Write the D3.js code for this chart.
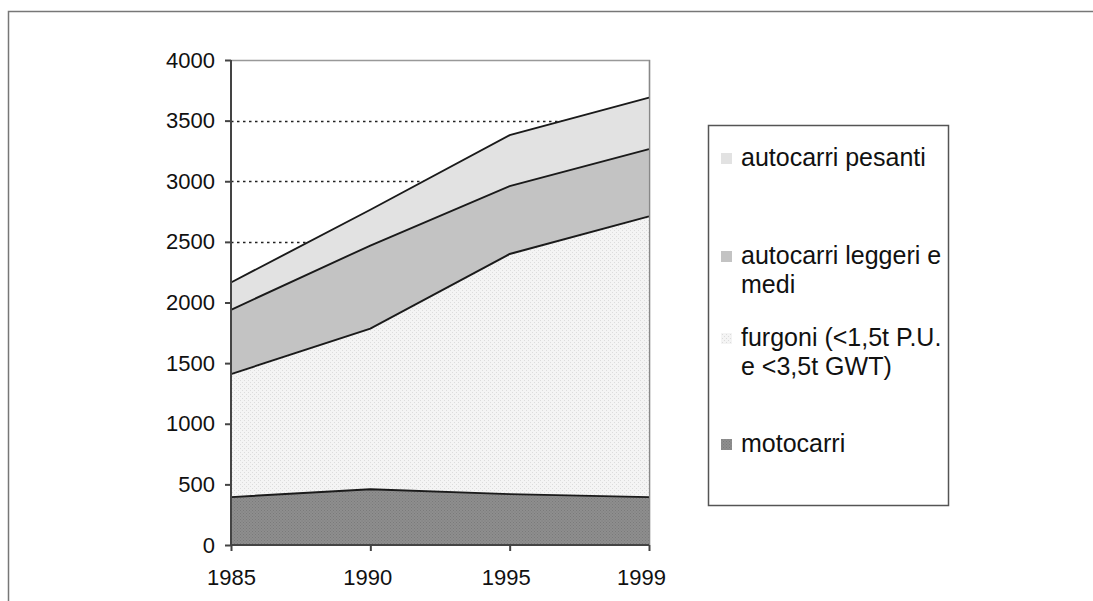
<!DOCTYPE html>
<html>
<head>
<meta charset="utf-8">
<script src="https://cdn.jsdelivr.net/npm/d3@7"></script>
<style>
html,body{margin:0;padding:0;background:#fff;}
svg{display:block;font-family:"Liberation Sans",Arial,sans-serif;}
</style>
</head>
<body>
<svg id="chart" width="1093" height="601"></svg>
<script>
const years = ["1985", "1990", "1995", "1999"];
const motocarri = [395, 460, 420, 395];
const furgoni = [1015, 1325, 1980, 2315];
const autocarriLeggeri = [530, 685, 560, 555];
const autocarriPesanti = [225, 295, 420, 425];
const yTicks = [0, 500, 1000, 1500, 2000, 2500, 3000, 3500, 4000];
const seriesNames = ["motocarri", "furgoni", "leggeri", "pesanti"];
const legendLabels = [
  ["autocarri pesanti"],
  ["autocarri leggeri e", "medi"],
  ["furgoni (<1,5t P.U.", "e <3,5t GWT)"],
  ["motocarri"]
];
const legendKeys = ["pesanti", "leggeri", "furgoni", "motocarri"];

const rows = years.map((yr, i) => ({
  year: yr,
  motocarri: motocarri[i],
  furgoni: furgoni[i],
  leggeri: autocarriLeggeri[i],
  pesanti: autocarriPesanti[i]
}));

const svg = d3.select("#chart");
const defs = svg.append("defs");

function dotPattern(id, bg, dot, size) {
  const p = defs.append("pattern").attr("id", id).attr("patternUnits", "userSpaceOnUse")
    .attr("width", size).attr("height", size);
  p.append("rect").attr("width", size).attr("height", size).attr("fill", bg);
  p.append("rect").attr("x", 0).attr("y", 0).attr("width", 1).attr("height", 1).attr("fill", dot);
  p.append("rect").attr("x", size / 2).attr("y", size / 2).attr("width", 1).attr("height", 1).attr("fill", dot);
}
dotPattern("pMoto", "#8e8e8e", "#7a7a7a", 3);
dotPattern("pFurg", "#f4f4f4", "#dcdcdc", 4);

const fills = {
  motocarri: "url(#pMoto)",
  furgoni: "url(#pFurg)",
  leggeri: "#c3c3c3",
  pesanti: "#e2e2e2"
};

// outer frame
svg.append("path").attr("d", "M8.5,601 L8.5,11.5 L1093,11.5")
  .attr("fill", "none").attr("stroke", "#777").attr("stroke-width", 1.5);

const pLeft = 231, pRight = 649, pTop = 60, pBottom = 545;
const x = d3.scalePoint().domain(years).range([pLeft, pRight]);
const y = d3.scaleLinear().domain([0, 4000]).range([pBottom, pTop]);

// gridlines
svg.append("g").selectAll("line").data(yTicks.filter(v => v > 0 && v < 4000)).join("line")
  .attr("x1", pLeft).attr("x2", pRight)
  .attr("y1", d => Math.round(y(d)) + 0.5).attr("y2", d => Math.round(y(d)) + 0.5)
  .attr("stroke", "#222").attr("stroke-width", 1.6).attr("stroke-dasharray", "2.5,3.5");

// plot border top/right
svg.append("path")
  .attr("d", `M${pLeft},${pTop + 0.5} L${pRight + 0.5},${pTop + 0.5} L${pRight + 0.5},${pBottom}`)
  .attr("fill", "none").attr("stroke", "#999").attr("stroke-width", 1.5);

// stacked areas
const stack = d3.stack().keys(seriesNames);
const stacked = stack(rows);
const area = d3.area().x(d => x(d.data.year)).y0(d => y(d[0])).y1(d => y(d[1]));
const line = d3.line().x(d => x(d.data.year)).y(d => y(d[1]));

svg.append("g").selectAll("path").data(stacked).join("path")
  .attr("d", area).attr("fill", d => fills[d.key]);
svg.append("g").selectAll("path").data(stacked).join("path")
  .attr("d", line).attr("fill", "none").attr("stroke", "#1a1a1a").attr("stroke-width", 1.9);

svg.append("line").attr("x1", pRight + 0.5).attr("x2", pRight + 0.5).attr("y1", pTop).attr("y2", pBottom)
  .attr("stroke", "#888").attr("stroke-width", 1.2);

// axes
const yAxis = d3.axisLeft(y).tickValues(yTicks).tickSize(6).tickPadding(10).tickFormat(d3.format("d"));
const gy = svg.append("g").attr("transform", `translate(${pLeft},0)`).call(yAxis);
const xAxis = d3.axisBottom(x).tickSize(6).tickPadding(18);
const gx = svg.append("g").attr("transform", `translate(0,${pBottom})`).call(xAxis);
[gy, gx].forEach(g => {
  g.select(".domain").attr("stroke", "#444").attr("stroke-width", 2);
  g.selectAll(".tick line").attr("stroke", "#444").attr("stroke-width", 2);
  g.selectAll(".tick text").attr("fill", "#111").style("font-size", "22px")
    .style("font-family", "'Liberation Sans', Arial, sans-serif");
});
gx.select(".domain").attr("d", `M${pLeft},0H${pRight}`);
gy.select(".domain").attr("d", `M0,${pBottom}V${pTop}`);
gx.selectAll(".tick text").attr("dx", (d, i) => [0, -3, -4, -8][i]);

// legend
const lg = svg.append("g");
lg.append("rect").attr("x", 708.5).attr("y", 125.5).attr("width", 240).attr("height", 380)
  .attr("fill", "#fff").attr("stroke", "#555").attr("stroke-width", 1.5);
const legendBase = [166, 264, 346, 452];
const legendLine = [0, 29, 29, 0];
legendKeys.forEach((k, i) => {
  const b = legendBase[i];
  lg.append("rect").attr("x", 721).attr("y", b - 13).attr("width", 11).attr("height", 11)
    .attr("fill", fills[k]);
  legendLabels[i].forEach((t, j) => {
    lg.append("text").attr("x", 741).attr("y", b + j * legendLine[i])
      .attr("fill", "#111").style("font-size", "25px").text(t);
  });
});
</script>
</body>
</html>
